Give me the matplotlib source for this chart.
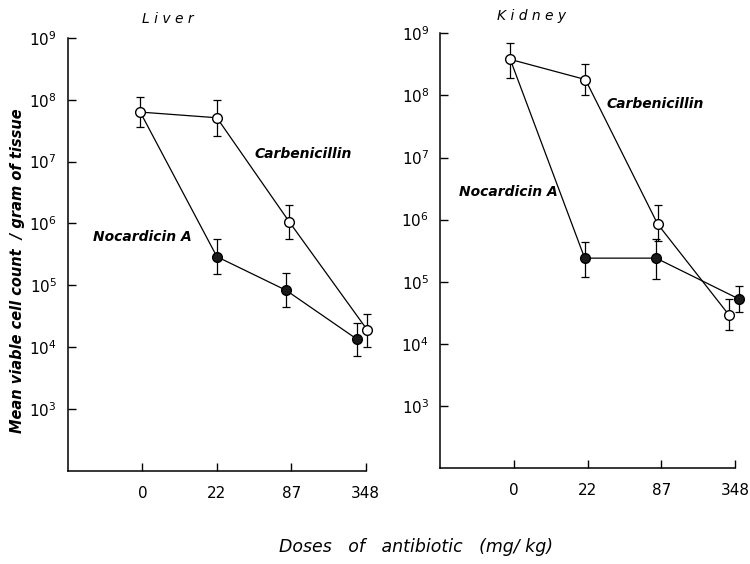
import matplotlib.pyplot as plt
import numpy as np

doses = ['0', '22', '87', '348']

# Liver
carb_liver = [6.3e7, 5.1e7, 1.07e6, 1.9e4]
carb_liver_hi = [1.1e8, 1.0e8, 2.0e6, 3.4e4]
carb_liver_lo = [3.6e7, 2.6e7, 5.6e5, 1.0e4]
noc_liver = [6.3e7, 2.9e5, 8.3e4, 1.35e4]
noc_liver_hi = [6.3e7, 5.6e5, 1.6e5, 2.5e4]
noc_liver_lo = [6.3e7, 1.5e5, 4.4e4, 7.1e3]

# Kidney
carb_kid = [3.8e8, 1.8e8, 8.5e5, 2.9e4]
carb_kid_hi = [7.0e8, 3.2e8, 1.7e6, 5.3e4]
carb_kid_lo = [1.9e8, 1.0e8, 4.6e5, 1.7e4]
noc_kid = [3.8e8, 2.4e5, 2.4e5, 5.3e4]
noc_kid_hi = [3.8e8, 4.3e5, 4.8e5, 8.4e4]
noc_kid_lo = [3.8e8, 1.2e5, 1.1e5, 3.3e4]

plt.rcParams['font.family'] = 'DejaVu Sans'

fig = plt.figure(figsize=(7.5, 5.64), dpi=100)
ax1 = fig.add_axes([0.0907, 0.165, 0.397, 0.768])
ax2 = fig.add_axes([0.587, 0.170, 0.393, 0.771])

x = np.arange(4)


def panel(ax, carb, chi, clo, noc, nhi, nlo, cdx, ndx):
    xc = x + np.array(cdx)
    xn = x + np.array(ndx)
    carb = np.array(carb)
    noc = np.array(noc)
    e1 = ax.errorbar(xc, carb, yerr=[carb - np.array(clo), np.array(chi) - carb],
                     fmt='none', ecolor='black', elinewidth=0.9, capsize=3, capthick=0.9, zorder=2)
    e2 = ax.errorbar(xn[1:], noc[1:], yerr=[noc[1:] - np.array(nlo)[1:], np.array(nhi)[1:] - noc[1:]],
                     fmt='none', ecolor='black', elinewidth=0.9, capsize=3, capthick=0.9, zorder=2)
    for e in (e1, e2):
        for art in e.get_children():
            art.set_clip_on(False)
    ax.plot(xn, noc, color='black', lw=0.9, marker='o', ms=7, mfc='#1a1a1a',
            mec='black', markevery=[1, 2, 3], zorder=3, clip_on=False)
    ax.plot(xc, carb, color='black', lw=0.9, marker='o', ms=7, mfc='white',
            mec='black', mew=1.0, zorder=4, clip_on=False)
    ax.set_yscale('log')
    ax.set_ylim(1e2, 1e9)
    ax.set_xlim(-1, 3)
    ax.set_xticks(x)
    ax.set_xticklabels(doses, fontsize=11)
    ax.set_yticks([1e3, 1e4, 1e5, 1e6, 1e7, 1e8, 1e9])
    ax.set_yticklabels([r'$10^{%d}$' % k for k in range(3, 10)], fontsize=11)
    ax.yaxis.set_minor_locator(plt.NullLocator())
    ax.tick_params(direction='in', length=6, width=1, pad=8)
    ax.tick_params(axis='x', pad=11)
    for s in ['top', 'right']:
        ax.spines[s].set_visible(False)
    for s in ['left', 'bottom']:
        ax.spines[s].set_linewidth(1.1)


panel(ax1, carb_liver, carb_liver_hi, carb_liver_lo, noc_liver, noc_liver_hi, noc_liver_lo,
      [-0.03, 0.0, -0.03, 0.02], [-0.03, 0.0, -0.07, -0.12])
panel(ax2, carb_kid, carb_kid_hi, carb_kid_lo, noc_kid, noc_kid_hi, noc_kid_lo,
      [-0.05, -0.03, -0.05, -0.08], [-0.05, -0.04, -0.07, 0.05])

tkw = dict(fontsize=10, fontstyle='italic', fontweight='bold')
ax1.text(1.5, 1.3e7, 'Carbenicillin', ha='left', va='center', **tkw)
ax1.text(0.0, 6e5, 'Nocardicin A', ha='center', va='center', **tkw)
ax2.text(1.25, 7.2e7, 'Carbenicillin', ha='left', va='center', **tkw)
ax2.text(-0.07, 2.8e6, 'Nocardicin A', ha='center', va='center', **tkw)

fig.text(168 / 750, 1 - 19 / 564, 'L i v e r', ha='center', va='center', fontsize=10,
         fontstyle='italic')
fig.text(532 / 750, 1 - 16 / 564, 'K i d n e y', ha='center', va='center', fontsize=10,
         fontstyle='italic')
fig.text(18 / 750, 0.52, 'Mean viable cell count  / gram of tissue', rotation=90,
         ha='center', va='center', fontsize=10.5, fontstyle='italic', fontweight='bold')
fig.text(0.555, 1 - 547 / 564, 'Doses   of   antibiotic   (mg/ kg)', ha='center', va='center',
         fontsize=12.5, fontstyle='italic')

fig.savefig('out.png', dpi=100)
